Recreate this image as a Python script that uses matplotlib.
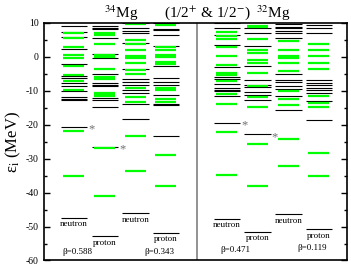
import matplotlib
matplotlib.use("Agg")
import matplotlib.pyplot as plt

# single-particle levels in MeV; black = 1/2+ , green = 1/2-
# column order: 34Mg (n, p, n, p), 32Mg (n, p, n, p)
pos_levels = [
    [9.1, 7.2, 5.8, 2.4, -2.2, -5.8, -6.3, -7.6, -8.7, -10.2, -11.9, -12.4, -12.8, -20.6],
    [9.2, 8.6, 8.1, 5.5, 0.8, -0.4, -5.1, -7.7, -8.2, -8.7, -12.1, -12.6, -14.8, -26.5],
    [9.8, 8.4, 7.6, 7.0, 4.0, -3.6, -6.7, -7.4, -8.3, -9.7, -10.7, -13.9, -18.4],
    [9.8, 8.2, 7.9, 6.5, 3.1, -2.8, -6.3, -7.4, -8.3, -11.4, -13.9, -14.3, -23.2],
    [9.8, 8.6, 6.5, 3.4, -2.9, -6.1, -6.5, -8.1, -9.2, -9.7, -10.2, -11.7, -19.4],
    [8.4, 7.0, 3.1, -2.6, -6.8, -8.2, -8.9, -10.4, -11.4, -12.6, -22.8],
    [9.6, 8.9, 8.4, 7.5, 7.0, 5.5, -5.1, -6.8, -7.4, -8.7, -9.4, -11.6, -15.8],
    [9.4, 8.4, 7.0, -6.8, -7.6, -8.2, -9.2, -9.8, -10.8, -13.0, -18.6],
]
neg_levels = [
    [7.0, 5.4, 2.8, 0.4, -0.3, -2.8, -5.3, -7.1, -9.8, -21.8, -35.1],
    [7.0, 6.4, 3.7, 0.4, -0.2, -3.5, -6.1, -6.6, -10.7, -11.2, -11.6, -27.0, -40.9],
    [9.6, 5.0, 3.7, 1.9, 0.1, -0.4, -1.9, -3.8, -5.1, -9.2, -11.9, -13.4, -23.2, -33.6],
    [9.4, 2.8, 2.1, 0.6, -0.2, -1.6, -2.1, -9.2, -9.7, -12.5, -13.2, -28.9, -38.2],
    [7.3, 6.0, 5.3, 2.8, 0.1, -2.4, -4.8, -5.3, -7.2, -11.0, -13.9, -22.2, -34.7],
    [9.0, 8.7, 5.3, 2.1, 1.1, -0.9, -1.9, -4.8, -8.5, -12.0, -14.7, -25.7, -38.2],
    [4.7, 2.1, 0.1, -0.4, -1.9, -4.3, -10.2, -12.4, -14.1, -24.3, -32.1],
    [3.7, 2.1, 0.1, -1.9, -3.5, -11.5, -13.5, -14.7, -28.4, -35.0],
]
kinds = ["neutron", "proton"] * 4
kind_level = [-47.4, -52.9, -46.1, -51.8, -47.7, -51.5, -46.4, -50.8]
starred = [-20.6, -26.5, None, None, -19.4, -22.8, None, None]
betas = ["0.588", "0.343", "0.471", "0.119"]

col_x = [0.80, 1.62, 2.42, 3.23, 4.84, 5.65, 6.46, 7.27]
beta_pos = [(0.88, -57.6), (3.06, -57.6), (5.05, -56.9), (7.09, -56.2)]

plt.rcParams["font.family"] = ["Liberation Serif", "DejaVu Serif"]
plt.rcParams["mathtext.fontset"] = "stix"
plt.rcParams["axes.unicode_minus"] = False


def main():
    fig = plt.figure(figsize=(3.51, 2.65), dpi=100)
    ax = fig.add_axes([0.1245, 0.017, 0.8632, 0.897])

    for i, x in enumerate(col_x):
        ax.hlines(pos_levels[i], x - 0.355, x + 0.355, colors="k", lw=0.8)
        ax.hlines(neg_levels[i], x - 0.28, x + 0.27, colors="#00ff00", lw=1.6)
        ax.hlines(kind_level[i], x - 0.355, x + 0.355, colors="k", lw=0.8)
        ax.text(x, kind_level[i] - 0.7, kinds[i], ha="center", va="top", fontsize=6.5)
        if starred[i] is not None:
            ax.text(x + 0.45, starred[i] - 0.9, "*", ha="center", va="center",
                    fontsize=9, color="#707070")

    for b, (bx, by) in zip(betas, beta_pos):
        ax.text(bx, by, "β=" + b, ha="center", va="center", fontsize=6.5)

    ax.axvline(4.04, color="#808080", lw=1.2)

    ax.set_xlim(0, 8)
    ax.set_ylim(-60, 10)
    ax.set_xticks([])
    ax.set_yticks(range(-60, 11, 10))
    ax.set_yticks(range(-55, 10, 10), minor=True)
    ax.tick_params(axis="y", which="both", direction="in", left=True, right=True, labelsize=7)
    ax.tick_params(axis="y", which="major", length=4.3, width=1.0)
    ax.tick_params(axis="y", which="minor", length=2.2, width=1.0)
    for s in ax.spines.values():
        s.set_linewidth(1.2)

    ax.set_ylabel("ε$_{\\rm i}$ (MeV)", fontsize=12, labelpad=2)

    ax.text(2.04, 12.9, "$^{34}$Mg", ha="center", va="center", fontsize=11, clip_on=False)
    ax.text(4.32, 12.9, "(1/2$^{+}$ & 1/2$^{-}$)", ha="center", va="center", fontsize=11, clip_on=False)
    ax.text(6.07, 12.9, "$^{32}$Mg", ha="center", va="center", fontsize=11, clip_on=False)

    fig.savefig("out.png", dpi=100)


if __name__ == "__main__":
    main()
